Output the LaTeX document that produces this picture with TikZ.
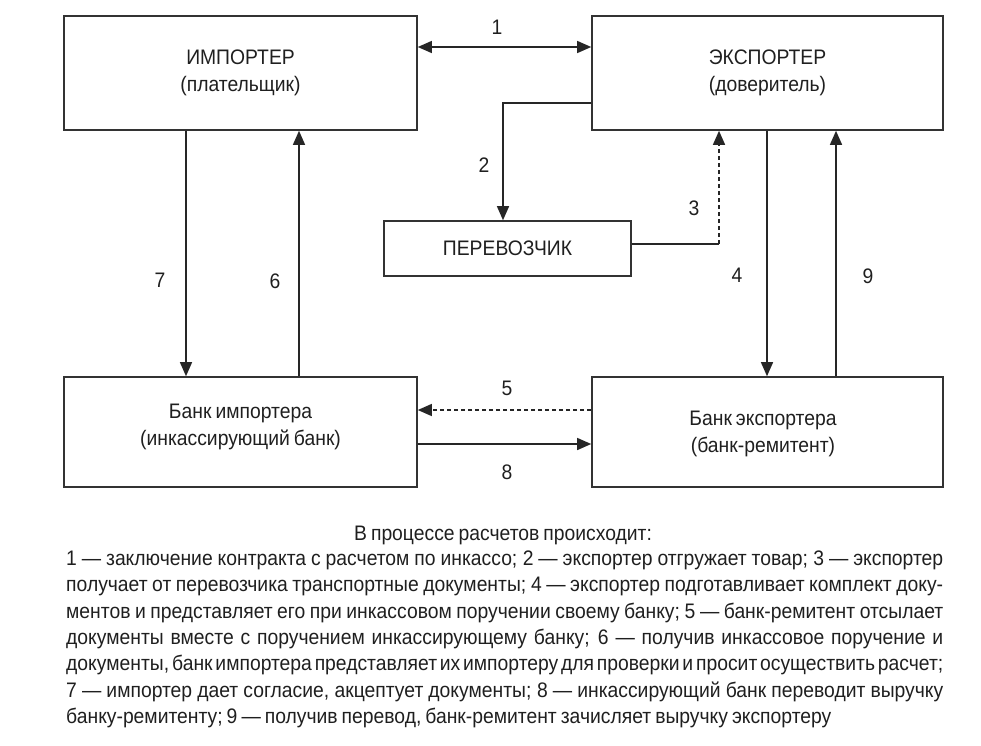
\documentclass[tikz,border=0pt]{standalone}
\usepackage{fontspec}
\setmainfont[FakeStretch=0.92, WordSpace=0.75]{Liberation Sans}
\usetikzlibrary{arrows.meta}
\begin{document}
\begin{tikzpicture}[x=1pt,y=-1pt,
  every node/.style={font=\fontsize{21}{27}\selectfont, text=black!88},
  boxnode/.style={draw=black!80, line width=1.6pt, inner sep=0pt},
  txt/.style={align=center, inner sep=0pt},
  conn/.style={draw=black!85, line width=1.3pt},
  arr/.style={conn, -{Triangle[length=14pt,width=12pt]}},
  arrtwo/.style={conn, {Triangle[length=14pt,width=12pt]}-{Triangle[length=14pt,width=12pt]}},
  darr/.style={arr, dash pattern=on 4pt off 3pt},
  num/.style={inner sep=0pt},
  bodyline/.style={anchor=base west, inner sep=0pt}]
\useasboundingbox (0,0) rectangle (981,745);

% boxes
\node[boxnode, minimum width=353pt, minimum height=114pt, txt] (imp) at (240.5,73) {ИМПОРТЕР\\(плательщик)};
\node[boxnode, minimum width=351pt, minimum height=114pt, txt] (exp) at (767.5,73) {ЭКСПОРТЕР\\(доверитель)};
\node[boxnode, minimum width=247pt, minimum height=55pt, txt] (per) at (507.5,248.5) {ПЕРЕВОЗЧИК};
\node[boxnode, minimum width=353pt, minimum height=110pt] (bi) at (240.5,432) {};
\node[boxnode, minimum width=351pt, minimum height=110pt] (be) at (767.5,432) {};
\node[txt] (bit) at (240.5,427) {Банк импортера\\(инкассирующий банк)};
\node[txt] (bet) at (763,434) {Банк экспортера\\(банк-ремитент)};

% connectors
\draw[arrtwo] ([yshift=26pt]imp.east) -- ([yshift=26pt]exp.west);
\draw[arr] ([yshift=-30pt]exp.west) -| ([xshift=-4.5pt]per.north);
\coordinate (c3) at (719,244);
\draw[conn] ([yshift=4.5pt]per.east) -- (c3);
\draw[darr] (c3) -- ([xshift=-48.5pt]exp.south);
\draw[arr] ([xshift=-0.5pt]exp.south) -- ([xshift=-0.5pt]be.north);
\draw[arr] ([xshift=68.5pt]be.north) -- ([xshift=68.5pt]exp.south);
\draw[arr] ([xshift=-54.5pt]imp.south) -- ([xshift=-54.5pt]bi.north);
\draw[arr] ([xshift=58.5pt]bi.north) -- ([xshift=58.5pt]imp.south);
\draw[darr] ([yshift=22pt]be.west) -- ([yshift=22pt]bi.east);
\draw[arr] ([yshift=-12pt]bi.east) -- ([yshift=-12pt]be.west);

% numbers
\node[num] (n1) at (497,27) {1};
\node[num] (n2) at (484,165) {2};
\node[num] (n3) at (694,208) {3};
\node[num] (n4) at (737,275) {4};
\node[num] (n5) at (507,388) {5};
\node[num] (n6) at (275,281) {6};
\node[num] (n7) at (160,280) {7};
\node[num] (n8) at (507,472) {8};
\node[num] (n9) at (868,276) {9};

% caption
\node[anchor=base, inner sep=0pt] (title) at (503,540) {В процессе расчетов происходит:};
\node[bodyline] (l1) at (66,565.5) {\makebox[877pt][s]{1 — заключение контракта с расчетом по инкассо; 2 — экспортер отгружает товар; 3 — экспортер}};
\node[bodyline] (l2) at (66,591.8) {\makebox[877pt][s]{получает от перевозчика транспортные документы; 4 — экспортер подготавливает комплект доку-}};
\node[bodyline] (l3) at (66,618.1) {\makebox[877pt][s]{ментов и представляет его при инкассовом поручении своему банку; 5 — банк-ремитент отсылает}};
\node[bodyline] (l4) at (66,644.4) {\makebox[877pt][s]{документы вместе с поручением инкассирующему банку; 6 — получив инкассовое поручение и}};
\node[bodyline] (l5) at (66,670.7) {\makebox[877pt][s]{документы, банк импортера представляет их импортеру для проверки и просит осуществить расчет;}};
\node[bodyline] (l6) at (66,697.0) {\makebox[877pt][s]{7 — импортер дает согласие, акцептует документы; 8 — инкассирующий банк переводит выручку}};
\node[bodyline] (l7) at (66,723.3) {банку-ремитенту; 9 — получив перевод, банк-ремитент зачисляет выручку экспортеру};
\end{tikzpicture}
\end{document}
